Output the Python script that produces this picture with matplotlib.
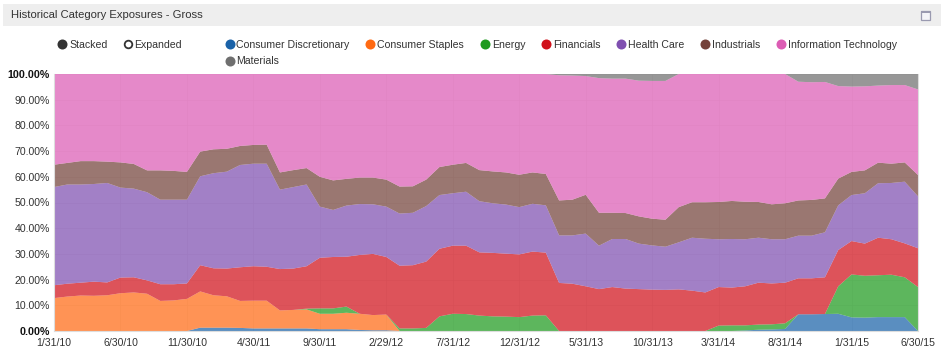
import numpy as np
import pandas as pd
import matplotlib
matplotlib.use("Agg")
import matplotlib.pyplot as plt
from matplotlib.patches import Rectangle

plt.rcParams['font.family'] = ['Liberation Sans', 'DejaVu Sans']

dates = pd.date_range("2010-01-31", "2015-06-30", freq="ME")
tick_labels = ["1/31/10", "6/30/10", "11/30/10", "4/30/11", "9/30/11", "2/29/12", "7/31/12",
               "12/31/12", "5/31/13", "10/31/13", "3/31/14", "8/31/14", "1/31/15", "6/30/15"]
y_ticks = [0, 10, 20, 30, 40, 50, 60, 70, 80, 90, 100]

# Upper edge of each stacked band (percent)
top_discretionary = [0]*11 + [1.3, 1.3, 1.3, 1.2, 1.0, 1.0, 1.0, 1.0, 1.0, 0.7, 0.7, 0.7, 0.4, 0.3, 0.3] + [0]*26 + \
    [0.2, 0.5, 0.6, 0.8, 6.5, 6.5, 6.6, 6.7, 5.3, 5.2, 5.4, 5.4, 5.4, 0]
top_staples = [12.8, 13.4, 13.8, 13.7, 13.9, 14.7, 15.0, 14.5, 11.7, 11.9, 12.5, 15.4, 13.9, 13.5, 11.7, 11.8, 11.8,
               8.0, 8.2, 8.4, 6.7, 6.7, 7.1, 6.7, 6.2, 6.4] + [0]*26 + [0.2, 0.5, 0.6, 0.8] + \
    [6.5, 6.5, 6.6, 6.7, 5.3, 5.2, 5.4, 5.4, 5.4, 0]
top_energy = [12.8, 13.4, 13.8, 13.7, 13.9, 14.7, 15.0, 14.5, 11.7, 11.9, 12.5, 15.4, 13.9, 13.5, 11.7, 11.8, 11.8,
              8.0, 8.2, 8.7, 8.8, 8.8, 9.5, 6.7, 6.2, 6.4, 1.0, 1.0, 1.2, 5.7, 6.7, 6.6, 6.0, 5.7, 5.6, 5.4, 6.0, 6.1,
              0, 0, 0, 0, 0, 0, 0, 0, 0, 0, 0, 0, 2.1, 2.2, 2.2, 2.5, 2.6, 3.0, 6.5, 6.5, 6.6, 17.4, 22.0, 21.5, 21.7,
              21.9, 20.9, 17.1]
top_financials = [17.8, 18.4, 18.8, 19.2, 18.9, 20.8, 20.9, 19.7, 18.2, 18.2, 18.5, 25.6, 24.4, 24.3, 24.8, 25.2, 25.0,
                  24.1, 24.3, 25.2, 28.5, 28.8, 28.9, 29.6, 30.0, 28.8, 25.4, 25.6, 27.0, 32.0, 33.2, 33.2, 30.6, 30.4,
                  30.1, 29.8, 30.9, 30.5, 18.7, 18.4, 17.4, 16.3, 17.1, 16.5, 16.3, 16.1, 16.0, 16.2, 15.7, 15.0, 17.1,
                  16.9, 17.4, 18.8, 18.5, 18.8, 20.5, 20.5, 20.9, 31.5, 35.0, 34.0, 36.3, 35.7, 34.1, 32.2]
top_health = [56.0, 57.0, 57.0, 57.2, 57.6, 55.8, 55.4, 54.0, 51.1, 51.1, 51.1, 60.2, 61.4, 62.0, 64.6, 65.1, 65.1,
              55.0, 56.0, 57.0, 48.4, 47.1, 48.8, 49.4, 49.3, 48.4, 45.7, 46.0, 48.6, 52.9, 53.6, 54.2, 50.5, 49.7,
              49.2, 48.2, 49.5, 48.9, 37.2, 37.2, 37.9, 33.2, 35.8, 35.8, 34.0, 33.3, 32.8, 34.5, 36.3, 35.9, 35.7,
              35.8, 35.7, 36.3, 35.7, 35.7, 37.1, 37.1, 38.4, 48.9, 52.9, 53.6, 57.5, 57.6, 58.1, 52.4]
top_industrials = [64.7, 65.4, 66.1, 66.1, 65.9, 65.6, 65.0, 62.5, 62.5, 62.3, 61.9, 69.8, 70.7, 70.9, 72.0, 72.4, 72.5,
                   61.7, 62.6, 63.4, 60.0, 58.6, 59.2, 59.7, 59.7, 58.9, 56.2, 56.3, 58.9, 63.8, 64.7, 65.4, 62.6, 62.1,
                   61.7, 60.8, 61.7, 61.1, 50.8, 51.1, 53.0, 46.0, 46.0, 45.9, 44.6, 43.7, 43.3, 48.2, 50.1, 50.1, 50.2,
                   50.6, 50.3, 50.2, 49.3, 49.7, 50.8, 51.0, 51.6, 59.3, 61.9, 62.5, 65.5, 65.1, 65.6, 60.7]
top_technology = [100]*38 + [99.5, 99.4, 99.2, 98.4, 98.2, 98.2, 97.4, 97.3, 97.3] + [100]*9 + \
    [97.0, 96.8, 96.9, 95.3, 95.1, 95.2, 95.5, 95.7, 95.7, 94.0]
top_materials = [100]*66

names = ["Consumer Discretionary", "Consumer Staples", "Energy", "Financials", "Health Care",
         "Industrials", "Information Technology", "Materials"]
colors = ["#1a62a8", "#ff6a13", "#1f9a1f", "#d0111b", "#7f4fb0", "#74423a", "#dc5cb4", "#6f6f6f"]
legend_dot_x = [229.7, 370, 484.7, 545.7, 621, 705, 780.7, 229.7]
legend_text_x = [236.5, 377, 492, 553, 628, 712.5, 788, 236.5]
legend_y = [44, 44, 44, 44, 44, 44, 44, 61]

tops = np.array([top_discretionary, top_staples, top_energy, top_financials, top_health,
                 top_industrials, top_technology, top_materials], dtype=float)
values = np.diff(np.vstack([np.zeros(66), tops]), axis=0)

W, H = 941, 352
fig = plt.figure(figsize=(W / 100, H / 100), dpi=100, facecolor="white")
L, R, T, B = 54, 918, 74, 331
ax = fig.add_axes([L / W, 1 - B / H, (R - L) / W, (B - T) / H])
x = np.arange(66)
ax.grid(True, color="#ededed", lw=0.5, zorder=0)
ax.set_axisbelow(True)
ax.stackplot(x, values, colors=colors, alpha=0.72, lw=0, zorder=2)
ax.set_xlim(0, 65)
ax.set_ylim(0, 100)
ax.set_xticks(x[::5])
ax.set_xticklabels(tick_labels, fontsize=7.6, color="#333333")
ax.set_yticks(y_ticks)
ax.set_yticklabels([f"{v}.00%" for v in y_ticks], fontsize=7.6, color="#333333")
for lab in (ax.get_yticklabels()[0], ax.get_yticklabels()[-1]):
    lab.set_fontweight("bold")
    lab.set_fontsize(7.7)
    lab.set_color("#111111")
ax.tick_params(length=0, pad=3)
ax.tick_params(axis="x", pad=5)
ax.spines["top"].set_visible(False)
for s in ["left", "right", "bottom"]:
    ax.spines[s].set_color("#dddddd")
    ax.spines[s].set_linewidth(0.8)

ov = fig.add_axes([0, 0, 1, 1], facecolor="none")
ov.set_xlim(0, W)
ov.set_ylim(H, 0)
ov.axis("off")
ov.add_patch(Rectangle((3, 4), 938, 22, fc="#eeeeee", ec="none"))
ov.text(11, 15.5, "Historical Category Exposures - Gross", fontsize=8.1, color="#333333",
        va="center", ha="left")
ov.add_patch(Rectangle((921.5, 10.5), 9, 9, fc="#f4f4f8", ec="#9a9ab0", lw=0.9))
ov.add_patch(Rectangle((921.5, 10.5), 9, 2, fc="#9a9ab0", ec="none"))

ov.scatter([62], [44], s=52, c="#333333", lw=0)
ov.text(69, 44.5, "Stacked", fontsize=7.6, color="#333333", va="center")
ov.scatter([127.7], [44], s=30, facecolors="white", edgecolors="#333333", lw=1.3)
ov.text(134.5, 44.5, "Expanded", fontsize=7.6, color="#333333", va="center")
for n, c, dx, tx, ly in zip(names, colors, legend_dot_x, legend_text_x, legend_y):
    ov.scatter([dx], [ly], s=52, c=c, lw=0)
    ov.text(tx, ly + 0.5, n, fontsize=7.6, color="#333333", va="center")

fig.savefig("out.png", dpi=100)
